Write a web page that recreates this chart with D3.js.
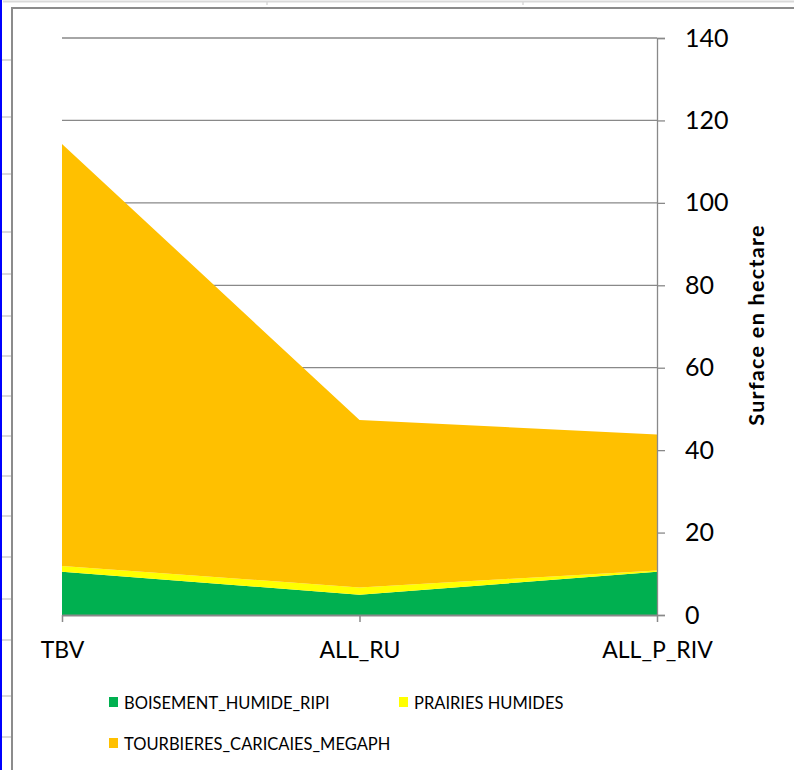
<!DOCTYPE html>
<html>
<head>
<meta charset="utf-8">
<script src="https://cdn.jsdelivr.net/npm/d3@7"></script>
<style>
  html, body { margin: 0; padding: 0; background: #fff; }
  svg { display: block; font-family: Lato, "Noto Sans", sans-serif; }
</style>
</head>
<body>
<svg id="chart" width="794" height="770"></svg>
<script>
// ---- data ----
const categories = ["TBV", "ALL_RU", "ALL_P_RIV"];
const seriesNames = ["BOISEMENT_HUMIDE_RIPI", "PRAIRIES HUMIDES", "TOURBIERES_CARICAIES_MEGAPH"];
const boisement = [10.5, 4.9, 10.5];
const prairies = [1.4, 1.8, 0.3];
const tourbieres = [102.4, 40.6, 33.0];
const seriesColors = ["#00B050", "#FFFF00", "#FFC000"];
const yTicks = [0, 20, 40, 60, 80, 100, 120, 140];
const yTitle = "Surface en hectare";
// spreadsheet row marks at the left edge (background decoration)
const rowMarks = [60, 117, 174, 232, 274, 316, 356, 396, 436, 476, 516, 557, 599, 640, 696, 737];

const svg = d3.select("#chart");

// background spreadsheet artefacts
svg.append("line").attr("x1", 3).attr("x2", 794).attr("y1", 1.5).attr("y2", 1.5)
  .attr("stroke", "#d9d9d9").attr("stroke-width", 2);
[267, 523].forEach(x => svg.append("line").attr("x1", x).attr("x2", x).attr("y1", 2).attr("y2", 5)
  .attr("stroke", "#d9d9d9").attr("stroke-width", 1.5));
svg.selectAll("line.rowmark").data(rowMarks).join("line").attr("class", "rowmark")
  .attr("x1", 2).attr("x2", 11).attr("y1", d => d).attr("y2", d => d)
  .attr("stroke", "#d9d9d9").attr("stroke-width", 2);
svg.append("line").attr("x1", 1).attr("x2", 1).attr("y1", 0).attr("y2", 770)
  .attr("stroke", "#0000ff").attr("stroke-width", 2);

// chart border
svg.append("rect").attr("x", 12).attr("y", 8).attr("width", 800).attr("height", 800)
  .attr("fill", "#fff").attr("stroke", "#8c8c8c").attr("stroke-width", 2);

// scales
const x = d3.scalePoint().domain(categories).range([62, 657]);
const y = d3.scaleLinear().domain([0, 140]).range([615, 38]);

// gridlines
svg.append("g").selectAll("line").data(yTicks.filter(d => d > 0)).join("line")
  .attr("x1", 62).attr("x2", 657)
  .attr("y1", d => y(d)).attr("y2", d => y(d))
  .attr("stroke", "#898989").attr("stroke-width", 1.3);

// stacked areas
const table = categories.map((c, i) => ({
  cat: c,
  [seriesNames[0]]: boisement[i],
  [seriesNames[1]]: prairies[i],
  [seriesNames[2]]: tourbieres[i]
}));
const stack = d3.stack().keys(seriesNames)(table);
const area = d3.area()
  .x(d => x(d.data.cat))
  .y0(d => y(d[0]))
  .y1(d => y(d[1]));
svg.append("g").selectAll("path").data(stack).join("path")
  .attr("d", area)
  .attr("fill", (d, i) => seriesColors[i]);

// right y axis
const yAxis = d3.axisRight(y).tickValues(yTicks).tickSize(8).tickPadding(20).tickFormat(d3.format("d"));
const gy = svg.append("g").attr("transform", "translate(657,0)").call(yAxis);
gy.select(".domain").attr("stroke", "#898989").attr("stroke-width", 1.3);
gy.selectAll(".tick line").attr("stroke", "#898989").attr("stroke-width", 1.3);
gy.selectAll(".tick text").attr("font-size", 25).attr("fill", "#000")
  .attr("font-family", "Lato, 'Noto Sans', sans-serif").attr("text-anchor", "start");

// bottom x axis
const xAxis = d3.axisBottom(x).tickSize(7).tickPadding(20).tickSizeOuter(0);
const gx = svg.append("g").attr("transform", "translate(0,615)").call(xAxis);
gx.select(".domain").attr("stroke", "#898989").attr("stroke-width", 2);
gx.selectAll(".tick line").attr("stroke", "#898989").attr("stroke-width", 1.5);
gx.selectAll(".tick text").attr("font-size", 23).attr("fill", "#000")
  .attr("font-family", "Lato, 'Noto Sans', sans-serif");

// y axis title
svg.append("text")
  .attr("transform", "translate(764,325) rotate(-90)")
  .attr("text-anchor", "middle")
  .attr("font-size", 21.5).attr("font-weight", "bold").attr("fill", "#000")
  .attr("letter-spacing", 1.3)
  .text(yTitle);

// legend
const legendPos = [
  { x: 109, y: 709 },
  { x: 399, y: 709 },
  { x: 109, y: 750 }
];
const lg = svg.append("g").selectAll("g").data(seriesNames).join("g")
  .attr("transform", (d, i) => `translate(${legendPos[i].x},${legendPos[i].y})`);
lg.append("rect").attr("x", 0).attr("y", -12).attr("width", 9).attr("height", 10)
  .attr("fill", (d, i) => seriesColors[i]);
lg.append("text").attr("x", 15).attr("y", 0)
  .attr("font-size", 16.5).attr("fill", "#000").text(d => d);
</script>
</body>
</html>
